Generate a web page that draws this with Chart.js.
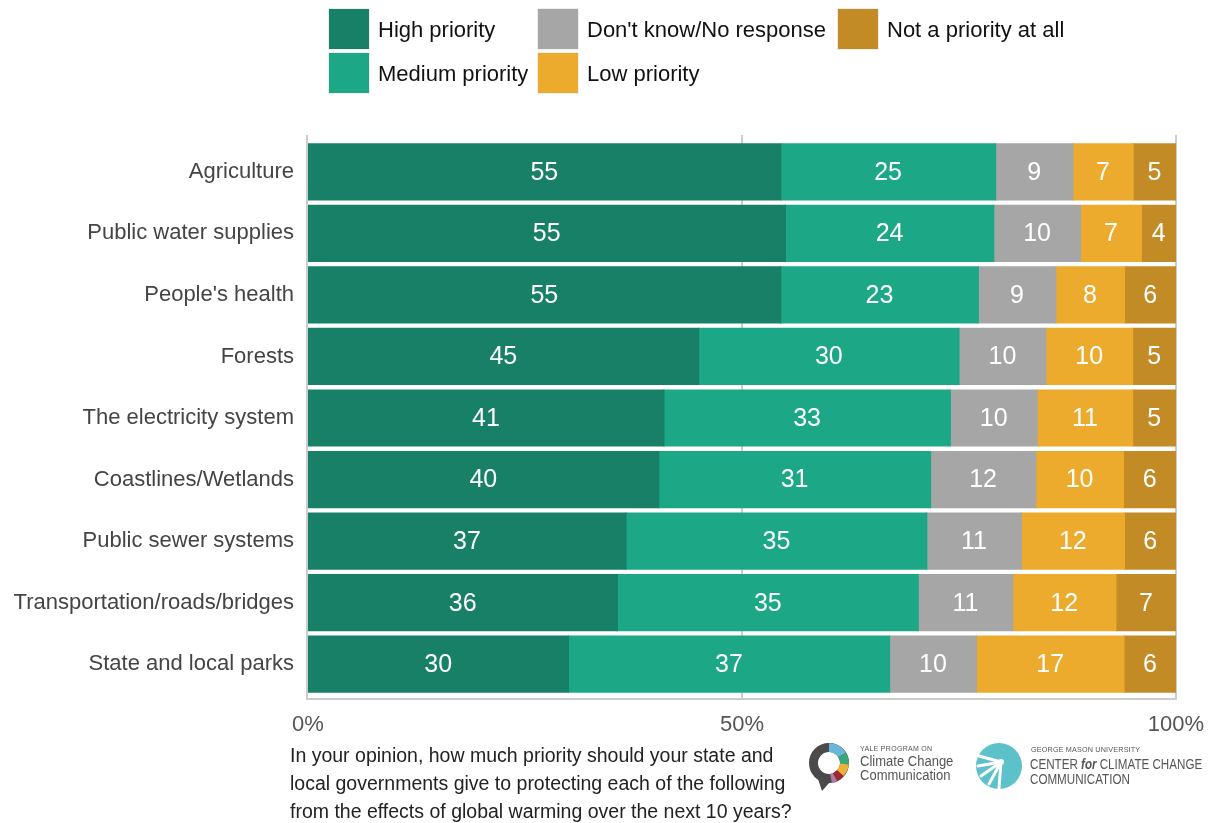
<!DOCTYPE html>
<html>
<head>
<meta charset="utf-8">
<script src="https://cdn.jsdelivr.net/npm/chart.js@4.4.0/dist/chart.umd.min.js"></script>
<style>
  body { margin: 0; background: #fff; font-family: "Liberation Sans", Arial, sans-serif; }
  #wrap { position: relative; width: 1215px; height: 823px; overflow: hidden; }
  canvas { position: absolute; left: 0; top: 0; }
  .lg { position: absolute; font-size: 22px; color: #111; line-height: 41px; white-space: nowrap; }
  .sw { position: absolute; width: 40px; height: 40px; box-shadow: 0 0 0 1px #eee; }
  #caption { position: absolute; left: 290px; top: 741px; font-size: 19.5px; line-height: 28px; color: #222; white-space: nowrap; }
  .logo { position: absolute; color: #555; white-space: nowrap; transform-origin: left top; }
</style>
</head>
<body>
<div id="wrap">
  <canvas id="myChart" width="1215" height="823"></canvas>
  <div id="legend"></div>
  <div id="caption">In your opinion, how much priority should your state and<br>local governments give to protecting each of the following<br>from the effects of global warming over the next 10 years?</div>

  <svg style="position:absolute;left:808px;top:741px" width="46" height="52" viewBox="0 0 46 52">
    <circle cx="21" cy="22" r="15.5" fill="none" stroke="#4a4a4a" stroke-width="9"/>
    <path d="M21 6.5 A15.5 15.5 0 0 1 34 14" fill="none" stroke="#6ab7d8" stroke-width="9"/>
    <path d="M34 14 A15.5 15.5 0 0 1 36.5 23" fill="none" stroke="#3aa77a" stroke-width="9"/>
    <path d="M36.5 23 A15.5 15.5 0 0 1 32 32" fill="none" stroke="#ecb33c" stroke-width="9"/>
    <path d="M32 32 A15.5 15.5 0 0 1 27 36" fill="none" stroke="#a3262e" stroke-width="9"/>
    <path d="M27 36 A15.5 15.5 0 0 1 23 37.5" fill="none" stroke="#a77aa8" stroke-width="9"/>
    <path d="M8 32 L14 50 L22 41 Z" fill="#4a4a4a"/>
  </svg>
  <div class="logo" style="left:860px;top:745px;font-size:7px;letter-spacing:0.3px;">YALE PROGRAM ON</div>
  <div class="logo" style="left:860px;top:754px;font-size:14px;line-height:14px;transform:scaleX(0.93);">Climate Change<br>Communication</div>

  <svg style="position:absolute;left:975px;top:742px" width="48" height="48" viewBox="0 0 48 48">
    <circle cx="24" cy="24" r="23" fill="#5cc1c9"/>
    <g stroke="#fff" stroke-width="3" stroke-linecap="round">
      <line x1="26" y1="20" x2="4" y2="14"/>
      <line x1="26" y1="20" x2="3" y2="24"/>
      <line x1="26" y1="20" x2="6" y2="34"/>
      <line x1="26" y1="20" x2="14" y2="42"/>
      <line x1="26" y1="20" x2="24" y2="46"/>
    </g>
    <circle cx="26" cy="20" r="3" fill="#fff"/>
  </svg>
  <div class="logo" style="left:1031px;top:745px;font-size:8px;letter-spacing:0.2px;transform:scaleX(0.9);">GEORGE MASON UNIVERSITY</div>
  <div class="logo" style="left:1030px;top:757px;font-size:14px;line-height:15px;transform:scaleX(0.83);">CENTER <b><i>for</i></b> CLIMATE CHANGE<br>COMMUNICATION</div>
</div>
<script>
const categories = ['Agriculture', 'Public water supplies', "People's health", 'Forests',
  'The electricity system', 'Coastlines/Wetlands', 'Public sewer systems',
  'Transportation/roads/bridges', 'State and local parks'];

const seriesNames = ['High priority', 'Medium priority', "Don't know/No response", 'Low priority', 'Not a priority at all'];
const seriesColors = ['#198068', '#1ca886', '#a6a6a6', '#ecab2c', '#c28b26'];

const highPriority = [55, 55, 55, 45, 41, 40, 37, 36, 30];
const mediumPriority = [25, 24, 23, 30, 33, 31, 35, 35, 37];
const dontKnow = [9, 10, 9, 10, 10, 12, 11, 11, 10];
const lowPriority = [7, 7, 8, 10, 11, 10, 12, 12, 17];
const notPriority = [5, 4, 6, 5, 5, 6, 6, 7, 6];

const xTicks = [0, 50, 100];

// legend (HTML)
const legendSpots = [[329, 9], [329, 53], [538, 9], [538, 53], [838, 9]];
const legendBox = document.getElementById('legend');
seriesNames.forEach((name, i) => {
  const [lx, ly] = legendSpots[i];
  const sw = document.createElement('div');
  sw.className = 'sw';
  sw.style.left = lx + 'px'; sw.style.top = ly + 'px'; sw.style.background = seriesColors[i];
  legendBox.appendChild(sw);
  const t = document.createElement('div');
  t.className = 'lg';
  t.style.left = (lx + 49) + 'px'; t.style.top = ly + 'px';
  t.textContent = name;
  legendBox.appendChild(t);
});

const raw = [highPriority, mediumPriority, dontKnow, lowPriority, notPriority];
const totals = categories.map((c, i) => raw.reduce((s, arr) => s + arr[i], 0));

const datasets = raw.map((arr, k) => ({
  label: seriesNames[k],
  data: arr.map((v, i) => v / totals[i] * 100),
  rawValues: arr,
  backgroundColor: seriesColors[k],
  borderWidth: 0,
  inflateAmount: 0.6,
  barPercentage: 0.91,
  categoryPercentage: 1
}));

const framePlugin = {
  id: 'frame',
  beforeDatasetsDraw(chart) {
    const { ctx, chartArea } = chart;
    const xs = chart.scales.x;
    ctx.save();
    ctx.strokeStyle = '#cccccc';
    ctx.lineWidth = 2;
    ctx.beginPath();
    xTicks.forEach(t => {
      const px = Math.round(xs.getPixelForValue(t)) - (t === 0 ? 1 : 0);
      ctx.moveTo(px, chartArea.top - 6);
      ctx.lineTo(px, chartArea.bottom + 4);
    });
    ctx.moveTo(xs.getPixelForValue(0) - 2, chartArea.bottom + 4);
    ctx.lineTo(xs.getPixelForValue(100) + 1, chartArea.bottom + 4);
    ctx.stroke();
    ctx.restore();
  }
};

const labelPlugin = {
  id: 'barLabels',
  afterDatasetsDraw(chart) {
    const ctx = chart.ctx;
    ctx.save();
    ctx.fillStyle = '#ffffff';
    ctx.font = '25px "Liberation Sans", Arial, sans-serif';
    ctx.textAlign = 'center';
    ctx.textBaseline = 'middle';
    chart.data.datasets.forEach((ds, k) => {
      chart.getDatasetMeta(k).data.forEach((bar, i) => {
        const cx = (bar.x + bar.base) / 2;
        ctx.fillText(String(ds.rawValues[i]), cx, bar.y + 1);
      });
    });
    ctx.restore();
  }
};

new Chart(document.getElementById('myChart'), {
  type: 'bar',
  data: { labels: categories, datasets: datasets },
  options: {
    indexAxis: 'y',
    responsive: false,
    animation: false,
    devicePixelRatio: 1,
    layout: { padding: { top: 141, right: 0, left: 0, bottom: 0 } },
    plugins: { legend: { display: false }, tooltip: { enabled: false } },
    scales: {
      x: {
        stacked: true,
        min: 0, max: 100,
        afterBuildTicks: s => { s.ticks = xTicks.map(v => ({ value: v })); },
        ticks: {
          callback: v => v + '%',
          color: '#555',
          font: { size: 22, family: '"Liberation Sans", Arial, sans-serif' },
          padding: 17,
          maxRotation: 0
        },
        grid: { display: false, drawTicks: false },
        border: { display: false },
        afterFit: s => { s.height = 128; s.paddingRight = 39; }
      },
      y: {
        stacked: true,
        ticks: {
          color: '#444',
          font: { size: 22, family: '"Liberation Sans", Arial, sans-serif' },
          padding: 14
        },
        grid: { display: false, drawTicks: false },
        border: { display: false },
        afterFit: s => { s.width = 308; }
      }
    }
  },
  plugins: [framePlugin, labelPlugin]
});
</script>
</body>
</html>
